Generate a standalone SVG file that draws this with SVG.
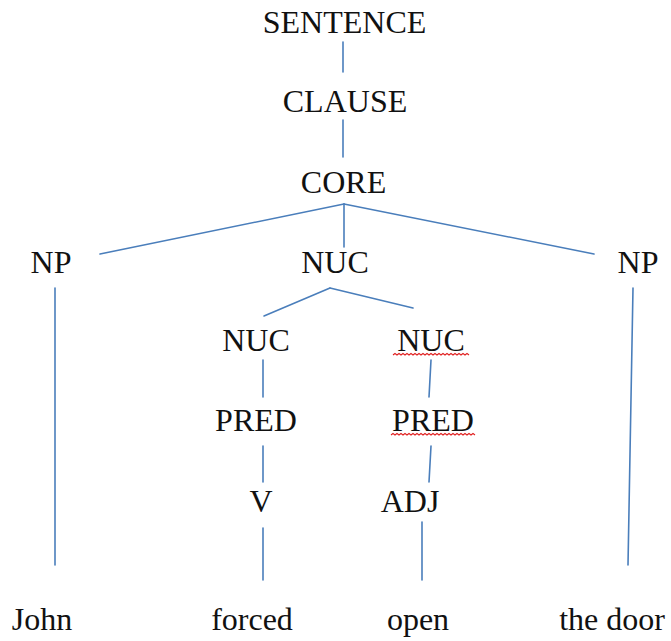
<svg xmlns="http://www.w3.org/2000/svg" width="671" height="641" viewBox="0 0 671 641">
<style>
  .lbl { font-family: "Liberation Serif", "Times New Roman", serif; font-size: 32px; fill: #111; text-anchor: middle; }
  .edge { stroke: #4a7ebb; stroke-width: 1.6; fill: none; stroke-linecap: round; }
  .squig { stroke: #e02020; stroke-width: 1.1; fill: none; }
</style>
<rect width="671" height="641" fill="#ffffff"/>
<g id="connectors">
  <line class="edge" x1="343" y1="42" x2="343" y2="72"/>
  <line class="edge" x1="343" y1="120" x2="343" y2="157"/>
  <line class="edge" x1="344" y1="204" x2="100" y2="254"/>
  <line class="edge" x1="344" y1="204" x2="344" y2="247"/>
  <line class="edge" x1="344" y1="204" x2="594" y2="254"/>
  <line class="edge" x1="55" y1="288" x2="55" y2="565"/>
  <line class="edge" x1="633" y1="288" x2="628" y2="565"/>
  <line class="edge" x1="330" y1="288" x2="264" y2="316"/>
  <line class="edge" x1="330" y1="288" x2="413" y2="308"/>
  <line class="edge" x1="263" y1="360" x2="263" y2="397"/>
  <line class="edge" x1="263" y1="446" x2="263" y2="482"/>
  <line class="edge" x1="263" y1="528" x2="263" y2="580"/>
  <line class="edge" x1="431" y1="360" x2="429" y2="397"/>
  <line class="edge" x1="431" y1="446" x2="429" y2="482"/>
  <line class="edge" x1="422" y1="522" x2="422" y2="580"/>
</g>
<g id="n-sentence"><text class="lbl" x="344.5" y="33">SENTENCE</text></g>
<g id="n-clause"><text class="lbl" x="345" y="112">CLAUSE</text></g>
<g id="n-core"><text class="lbl" x="343.5" y="193">CORE</text></g>
<g id="n-np1"><text class="lbl" x="51" y="273">NP</text></g>
<g id="n-nuc"><text class="lbl" x="335" y="273">NUC</text></g>
<g id="n-np2"><text class="lbl" x="638" y="273">NP</text></g>
<g id="n-nuc1"><text class="lbl" x="256" y="351">NUC</text></g>
<g id="n-nuc2"><text class="lbl" x="431" y="351">NUC</text>
  <path class="squig" d="M393 355 l2 -1.5 l2 1.5 l2 -1.5 l2 1.5 l2 -1.5 l2 1.5 l2 -1.5 l2 1.5 l2 -1.5 l2 1.5 l2 -1.5 l2 1.5 l2 -1.5 l2 1.5 l2 -1.5 l2 1.5 l2 -1.5 l2 1.5 l2 -1.5 l2 1.5 l2 -1.5 l2 1.5 l2 -1.5 l2 1.5 l2 -1.5 l2 1.5 l2 -1.5 l2 1.5 l2 -1.5 l2 1.5 l2 -1.5 l2 1.5 l2 -1.5 l2 1.5 l2 -1.5 l2 1.5 l2 -1.5 l2 1.5"/>
</g>
<g id="n-pred1"><text class="lbl" x="256" y="431">PRED</text></g>
<g id="n-pred2"><text class="lbl" x="433" y="431">PRED</text>
  <path class="squig" d="M391 435 l2 -1.5 l2 1.5 l2 -1.5 l2 1.5 l2 -1.5 l2 1.5 l2 -1.5 l2 1.5 l2 -1.5 l2 1.5 l2 -1.5 l2 1.5 l2 -1.5 l2 1.5 l2 -1.5 l2 1.5 l2 -1.5 l2 1.5 l2 -1.5 l2 1.5 l2 -1.5 l2 1.5 l2 -1.5 l2 1.5 l2 -1.5 l2 1.5 l2 -1.5 l2 1.5 l2 -1.5 l2 1.5 l2 -1.5 l2 1.5 l2 -1.5 l2 1.5 l2 -1.5 l2 1.5 l2 -1.5 l2 1.5 l2 -1.5 l2 1.5 l2 -1.5 l2 1.5"/>
</g>
<g id="n-v"><text class="lbl" x="261" y="512">V</text></g>
<g id="n-adj"><text class="lbl" x="410" y="512">ADJ</text></g>
<g id="w-john"><text class="lbl" x="42" y="630">John</text></g>
<g id="w-forced"><text class="lbl" x="252" y="630">forced</text></g>
<g id="w-open"><text class="lbl" x="418" y="630">open</text></g>
<g id="w-door"><text class="lbl" x="612" y="630">the door</text></g>
</svg>
